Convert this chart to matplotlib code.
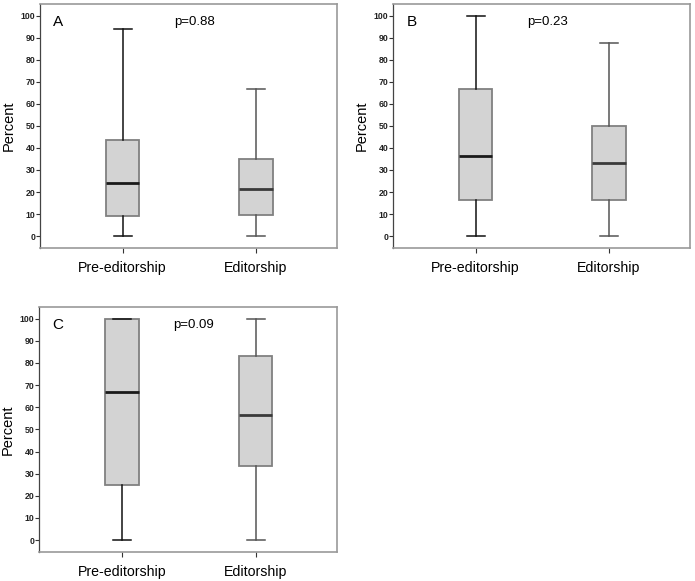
import matplotlib
matplotlib.use("Agg")
import matplotlib.pyplot as plt

plt.rcParams['font.family'] = ['Liberation Sans', 'DejaVu Sans']

groups = ['Pre-editorship', 'Editorship']
panels = ['A', 'B', 'C']
pvalues = ['p=0.88', 'p=0.23', 'p=0.09']

# five-number summaries per panel: [min, q1, median, q3, max]
stats_A = [[0, 9.2, 24.3, 43.7, 93.8], [0, 9.8, 21.4, 34.9, 66.6]]
stats_B = [[0, 16.3, 36.5, 66.6, 100], [0, 16.3, 33.4, 49.9, 87.8]]
stats_C = [[0, 25.0, 66.7, 100, 100], [0, 33.3, 56.6, 83.3, 100]]
all_stats = [stats_A, stats_B, stats_C]

yticks = list(range(0, 101, 10))

fig = plt.figure(figsize=(6.95, 5.81), dpi=100)
rects = [[0.0576, 0.5731, 0.4273, 0.42],
         [0.5655, 0.5731, 0.4273, 0.42],
         [0.0561, 0.0499, 0.4288, 0.4217]]

whisk_cols = ['#111111', '#555555']
med_cols = ['#1a1a1a', '#3a3a3a']

for k in range(3):
    ax = fig.add_axes(rects[k])
    bxp = []
    for g, s in zip(groups, all_stats[k]):
        bxp.append({'label': g, 'whislo': s[0], 'q1': s[1], 'med': s[2],
                    'q3': s[3], 'whishi': s[4], 'fliers': []})
    res = ax.bxp(bxp, positions=[1, 2], widths=0.25, patch_artist=True,
                 showfliers=False, capwidths=0.135)
    for i in range(2):
        res['boxes'][i].set_facecolor('#d3d3d3')
        res['boxes'][i].set_edgecolor('#808080')
        res['boxes'][i].set_linewidth(1.3)
        res['medians'][i].set_color(med_cols[i])
        res['medians'][i].set_linewidth(2.0)
        for j in (2 * i, 2 * i + 1):
            res['whiskers'][j].set_color(whisk_cols[i])
            res['whiskers'][j].set_linewidth(1.1)
            res['caps'][j].set_color(whisk_cols[i])
            res['caps'][j].set_linewidth(1.1)

    ax.set_xlim(0.38, 2.608)
    ax.set_ylim(-5.4, 105.3)
    ax.set_yticks(yticks)
    ax.set_yticklabels([str(v) for v in yticks], fontsize=6.3, fontweight='bold',
                       color='#222222')
    ax.set_xticks([1, 2])
    ax.set_xticklabels(groups, fontsize=10.2)
    ax.tick_params(axis='y', direction='out', length=3, width=0.8, pad=0.5,
                   color='#333333')
    ax.tick_params(axis='x', direction='out', length=3.5, width=0.8, pad=6,
                   color='#333333')
    ax.set_ylabel('Percent', fontsize=10.5)
    ax.yaxis.set_label_coords(-0.082, 0.5)
    for side in ['top', 'right', 'bottom']:
        ax.spines[side].set_color('#999999')
        ax.spines[side].set_linewidth(1.2)
    ax.spines['left'].set_color('#444444')
    ax.spines['left'].set_linewidth(0.9)

    ax.text(0.045, 0.925, panels[k], transform=ax.transAxes, fontsize=11,
            va='center', ha='left')
    ax.text(0.45, 0.925, pvalues[k], transform=ax.transAxes, fontsize=9.5,
            va='center', ha='left')

fig.savefig('out.png', dpi=100)
